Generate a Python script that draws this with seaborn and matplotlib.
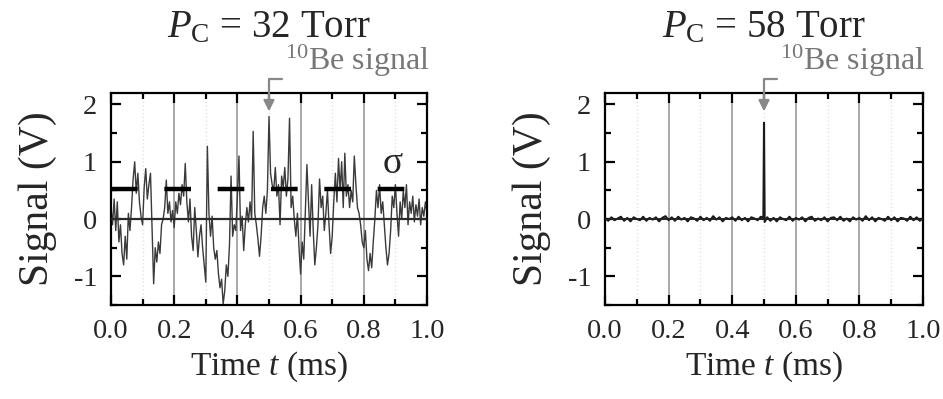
import matplotlib
matplotlib.use("Agg")
import matplotlib.pyplot as plt
from matplotlib.ticker import MultipleLocator
import numpy as np
import pandas as pd
import seaborn as sns

# ---------------- data ----------------
left_title = r"$P_{\mathrm{C}}$ = 32 Torr"
right_title = r"$P_{\mathrm{C}}$ = 58 Torr"
x_ticks = [0.0, 0.2, 0.4, 0.6, 0.8, 1.0]
y_ticks = [-1, 0, 1, 2]
sigma_level = 0.52
be_signal_time = 0.5

left_time = [
    0.000, 0.005, 0.010, 0.015, 0.020, 0.025, 0.030, 0.035, 0.040, 0.045,
    0.050, 0.055, 0.060, 0.065, 0.070, 0.075, 0.080, 0.085, 0.090, 0.095,
    0.100, 0.105, 0.110, 0.115, 0.120, 0.125, 0.130, 0.135, 0.140, 0.145,
    0.150, 0.155, 0.160, 0.165, 0.170, 0.175, 0.180, 0.185, 0.190, 0.195,
    0.200, 0.205, 0.210, 0.215, 0.220, 0.225, 0.230, 0.235, 0.240, 0.245,
    0.250, 0.255, 0.260, 0.265, 0.270, 0.275, 0.280, 0.285, 0.290, 0.295,
    0.300, 0.305, 0.310, 0.315, 0.320, 0.325, 0.330, 0.335, 0.340, 0.345,
    0.350, 0.355, 0.360, 0.365, 0.370, 0.375, 0.380, 0.385, 0.390, 0.395,
    0.400, 0.405, 0.410, 0.415, 0.420, 0.425, 0.430, 0.435, 0.440, 0.445,
    0.450, 0.455, 0.460, 0.465, 0.470, 0.475, 0.480, 0.485, 0.490, 0.495,
    0.500, 0.505, 0.510, 0.515, 0.520, 0.525, 0.530, 0.535, 0.540, 0.545,
    0.550, 0.555, 0.560, 0.565, 0.570, 0.575, 0.580, 0.585, 0.590, 0.595,
    0.600, 0.605, 0.610, 0.615, 0.620, 0.625, 0.630, 0.635, 0.640, 0.645,
    0.650, 0.655, 0.660, 0.665, 0.670, 0.675, 0.680, 0.685, 0.690, 0.695,
    0.700, 0.705, 0.710, 0.715, 0.720, 0.725, 0.730, 0.735, 0.740, 0.745,
    0.750, 0.755, 0.760, 0.765, 0.770, 0.775, 0.780, 0.785, 0.790, 0.795,
    0.800, 0.805, 0.810, 0.815, 0.820, 0.825, 0.830, 0.835, 0.840, 0.845,
    0.850, 0.855, 0.860, 0.865, 0.870, 0.875, 0.880, 0.885, 0.890, 0.895,
    0.900, 0.905, 0.910, 0.915, 0.920, 0.925, 0.930, 0.935, 0.940, 0.945,
    0.950, 0.955, 0.960, 0.965, 0.970, 0.975, 0.980, 0.985, 0.990, 0.995,
    1.000,
]
left_signal = [
    0.20, -0.10, 0.35, -0.20, 0.30, -0.40, -0.10, -0.60, -0.80, -0.30,
    -0.70, 0.10, -0.20, 0.20, 0.70, 1.00, 0.45, 0.80, 0.30, 0.05,
    -0.10, 0.55, 0.88, 0.35, 0.60, 0.80, -0.20, -1.13, -0.50, -0.75,
    -0.40, -0.60, -0.10, 0.00, 0.20, 0.68, 0.10, 0.30, -0.05, 0.15,
    -0.15, 0.30, 0.10, 0.45, 0.25, 0.60, 0.40, 0.97, 0.30, -0.05,
    0.35, -0.30, -0.55, 0.20, -0.20, -0.66, -0.30, -0.10, -0.50, -0.80,
    -1.10, 1.27, 0.10, -0.30, 0.05, -0.50, -0.70, -0.55, -0.95, -1.20,
    -1.05, -1.48, -1.25, -0.80, -1.00, -0.45, 0.75, -0.30, -0.10, -0.20,
    0.40, 1.10, -0.20, 0.05, -0.55, -0.10, 0.20, -0.05, 0.30, 0.00,
    1.53, 0.10, -0.10, -0.35, -0.65, -0.30, 0.20, 0.40, 0.10, 0.50,
    1.79, 0.80, 0.60, 0.50, 0.90, 0.40, 0.60, -0.10, 0.75, 0.55,
    0.90, 0.40, 0.70, 1.76, 0.20, 0.40, 0.00, -0.30, 0.10, -0.50,
    -0.96, -0.40, -0.70, 0.10, 0.95, 0.30, -0.30, 0.60, -0.20, -0.80,
    -0.50, -0.10, 0.70, 0.20, 0.40, -0.20, 0.10, 0.50, -0.10, -0.60,
    -0.30, 0.30, 0.80, 0.30, 1.06, 0.50, 1.00, 0.20, 1.15, 0.40,
    0.60, 0.20, 0.50, 0.30, 1.10, 0.60, 0.20, 0.10, -0.10, -0.40,
    -0.50, -0.20, -0.70, -0.90, -0.60, -0.85, -0.40, 0.00, 0.50, 0.20,
    0.60, 0.10, 0.30, -0.10, -0.50, -0.80, -0.60, -0.20, 0.40, 0.20,
    0.60, 0.10, -0.30, 0.30, 0.00, 0.50, 0.20, 0.60, -0.10, 0.30,
    0.10, 0.40, -0.05, 0.25, 0.05, 0.35, -0.10, 0.20, 0.05, 0.30,
    0.10,
]

right_time = [
    0.00, 0.01, 0.02, 0.03, 0.04, 0.05, 0.06, 0.07, 0.08, 0.09,
    0.10, 0.11, 0.12, 0.13, 0.14, 0.15, 0.16, 0.17, 0.18, 0.19,
    0.20, 0.21, 0.22, 0.23, 0.24, 0.25, 0.26, 0.27, 0.28, 0.29,
    0.30, 0.31, 0.32, 0.33, 0.34, 0.35, 0.36, 0.37, 0.38, 0.39,
    0.40, 0.41, 0.42, 0.43, 0.44, 0.45, 0.46, 0.47, 0.48, 0.49,
    0.498, 0.500, 0.502,
    0.51, 0.52, 0.53, 0.54, 0.55, 0.56, 0.57, 0.58, 0.59,
    0.60, 0.61, 0.62, 0.63, 0.64, 0.65, 0.66, 0.67, 0.68, 0.69,
    0.70, 0.71, 0.72, 0.73, 0.74, 0.75, 0.76, 0.77, 0.78, 0.79,
    0.80, 0.81, 0.82, 0.83, 0.84, 0.85, 0.86, 0.87, 0.88, 0.89,
    0.90, 0.91, 0.92, 0.93, 0.94, 0.95, 0.96, 0.97, 0.98, 0.99,
    1.00,
]
right_signal = [
    0.02, -0.03, 0.03, -0.02, 0.01, 0.04, -0.03, 0.02, -0.04, 0.03,
    0.00, -0.02, 0.04, -0.03, 0.02, -0.01, 0.03, -0.04, 0.02, 0.05,
    -0.02, 0.03, -0.03, 0.04, -0.01, 0.02, -0.04, 0.03, 0.01, -0.03,
    0.04, -0.02, 0.02, -0.03, 0.05, -0.01, 0.03, -0.04, 0.02, 0.00,
    0.03, -0.03, 0.04, -0.02, 0.02, -0.04, 0.03, 0.01, -0.02, 0.04,
    0.02, 1.68, -0.05,
    0.03, -0.03, 0.02, -0.04, 0.03, 0.00, -0.02, 0.04, -0.03,
    0.02, -0.01, 0.03, -0.04, 0.02, 0.04, -0.03, 0.01, -0.02, 0.03,
    -0.04, 0.02, 0.03, -0.02, 0.04, -0.03, 0.01, -0.04, 0.03, -0.01,
    0.02, -0.03, 0.05, -0.02, 0.03, -0.04, 0.02, 0.00, -0.03, 0.04,
    -0.02, 0.03, -0.04, 0.02, 0.01, -0.03, 0.04, -0.02, 0.03, -0.03,
    0.02,
]

left_df = pd.DataFrame({"t": left_time, "v": left_signal})
right_df = pd.DataFrame({"t": right_time, "v": right_signal})

# ---------------- style ----------------
sns.set_style("ticks")
plt.rcParams["font.family"] = ["Liberation Serif", "DejaVu Serif"]
plt.rcParams["mathtext.fontset"] = "custom"
plt.rcParams["mathtext.rm"] = "Liberation Serif"
plt.rcParams["mathtext.it"] = "Liberation Serif:italic"
plt.rcParams["mathtext.bf"] = "Liberation Serif:bold"
plt.rcParams["axes.unicode_minus"] = False

fig = plt.figure(figsize=(9.43, 3.99), dpi=100)
ax_l = fig.add_axes([0.1177, 0.2356, 0.3351, 0.5313])
ax_r = fig.add_axes([0.6416, 0.2356, 0.3372, 0.5313])

GRAY_TXT = "#777777"


def style_axis(ax, title):
    ax.set_xlim(0, 1.0)
    ax.set_ylim(-1.5, 2.2)
    ax.xaxis.set_major_locator(MultipleLocator(0.2))
    ax.xaxis.set_minor_locator(MultipleLocator(0.1))
    ax.yaxis.set_major_locator(MultipleLocator(1))
    ax.yaxis.set_minor_locator(MultipleLocator(0.5))
    ax.set_xticks(x_ticks)
    ax.set_xticklabels([f"{v:.1f}" for v in x_ticks])
    ax.set_yticks(y_ticks)
    ax.set_yticklabels([str(v) for v in y_ticks])
    ax.tick_params(which="both", direction="in", top=True, right=True,
                   width=1.6, color="black")
    ax.tick_params(which="major", length=7, labelsize=20.5, pad=10)
    ax.tick_params(which="minor", length=4.5)
    for s in ax.spines.values():
        s.set_linewidth(1.6)
        s.set_color("black")
    # grid: solid gray at major x, dotted light at minor x
    for xv in [0.2, 0.4, 0.6, 0.8]:
        ax.axvline(xv, color="#a8a8a8", lw=1.4, zorder=0)
    for xv in [0.1, 0.3, 0.5, 0.7, 0.9]:
        ax.axvline(xv, color="#dedede", lw=0.9, ls=(0, (1, 2)), zorder=0)
    ax.set_xlabel("Time $t$ (ms)", fontsize=24, labelpad=4)
    ax.set_ylabel("Signal (V)", fontsize=30, labelpad=12)
    ax.set_title(title, fontsize=28, pad=40)
    ax.annotate(r"$^{10}$Be signal", xy=(be_signal_time, 1.88),
                xytext=(be_signal_time + 0.05, 2.45), textcoords="data",
                ha="left", va="bottom", fontsize=23, color=GRAY_TXT,
                annotation_clip=False,
                arrowprops=dict(arrowstyle="-|>", color="#888888", lw=1.6,
                                connectionstyle="angle,angleA=0,angleB=90,rad=0",
                                relpos=(0, 0), shrinkA=0, shrinkB=0,
                                mutation_scale=16))


# left panel
sns.lineplot(data=left_df, x="t", y="v", ax=ax_l, color="#3a3a3a", lw=1.0,
             estimator=None, sort=False)
ax_l.axhline(0, color="#2a2a2a", lw=1.6, zorder=3)
ax_l.axhline(sigma_level, color="black", lw=3.2, ls=(0, (6.0, 6.0)), zorder=4)
ax_l.text(0.89, 0.97, "σ", fontsize=27, ha="center", va="center")
style_axis(ax_l, left_title)

# right panel
sns.lineplot(data=right_df, x="t", y="v", ax=ax_r, color="#1a1a1a", lw=1.5,
             estimator=None, sort=False)
ax_r.axhline(0, color="#222222", lw=1.4, zorder=3)
style_axis(ax_r, right_title)

fig.savefig("out.png", dpi=100)
